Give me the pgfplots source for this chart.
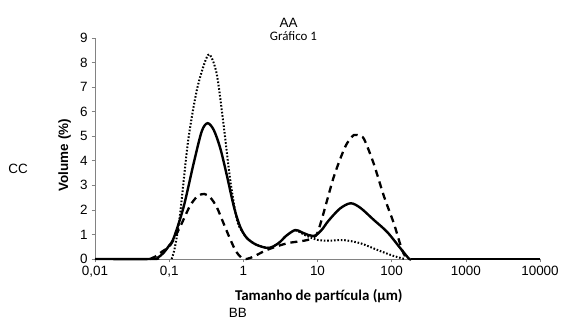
\documentclass[border=0pt]{standalone}
\usepackage{pgfplots}
\pgfplotsset{compat=1.18}
\usepackage{fontspec}
\setmainfont{Liberation Sans}
\newfontfamily\calibri{Carlito}
\definecolor{axgray}{RGB}{130,130,130}
\begin{document}
\begin{tikzpicture}
\useasboundingbox (0,0) rectangle (561bp,322bp);
\begin{axis}[
  at={(95bp,63bp)}, anchor=south west,
  scale only axis, width=445bp, height=221bp,
  xmode=log, log basis x=10,
  xmin=0.01, xmax=10000, ymin=0, ymax=9,
  axis x line*=bottom, axis y line*=left,
  axis line style={-, axgray, line width=0.6pt},
  xtick={0.01,0.1,1,10,100,1000,10000},
  xticklabels={0{,}01,0{,}1,1,10,100,1000,10000},
  ytick={0,1,...,9},
  minor xtick={}, 
  tick style={axgray, line width=0.6pt},
  tick align=outside, major tick length=3.5bp,
  /pgf/number format/assume math mode=true,
  tick label style={font=\fontsize{13.5}{15}\selectfont, text=black},
  xticklabel style={yshift=-0.5bp},
  yticklabel style={xshift=-0.5bp},
  clip=false,
  title={\calibri\fontsize{13}{15}\selectfont Gráfico 1},
  title style={at={(rel axis cs:0.446,0.983)}, anchor=center},
  xlabel={\calibri\bfseries\fontsize{15}{17}\selectfont Tamanho de partícula (µm)},
  xlabel style={at={(rel axis cs:0.503,-0.17)}, anchor=center},
  ylabel={\bfseries\fontsize{13.5}{15}\selectfont Volume (\%)},
  ylabel style={at={(rel axis cs:-0.068,0.47)}, anchor=center, rotate=0},
]
% solid
\addplot[black, line width=2.4bp, smooth, tension=0.5] coordinates {
(0.01,0) (0.06,0) (0.07,0.05) (0.084,0.25) (0.1,0.55) (0.115,0.85) (0.156,2.1)
(0.214,3.9) (0.275,5.2) (0.33,5.53) (0.40,5.25) (0.49,4.5) (0.60,3.4) (0.75,2.1)
(0.91,1.3) (1.12,0.85) (1.5,0.58) (2.2,0.45) (3.0,0.65) (3.8,0.95) (5.0,1.18)
(6.0,1.1) (7.5,0.98) (9.3,0.95) (11.5,1.2) (14,1.55) (20,2.05) (28,2.27) (38,2.08)
(57,1.6) (87,1.1) (130,0.45) (170,0.02) (180,0)
};
\addplot[black, line width=2.4bp] coordinates {(180,0) (10000,0)};
% dotted
\addplot[black, line width=2bp, dash pattern=on 1.6bp off 1.8bp, smooth, tension=0.5] coordinates {
(0.108,0) (0.12,0.5) (0.14,1.8) (0.18,4.8) (0.237,6.9) (0.31,8.1) (0.358,8.3)
(0.44,7.5) (0.54,5.5) (0.667,3.2) (0.82,1.6) (0.95,1.15) (1.12,0.85) (1.5,0.58)
(2.2,0.45) (3.0,0.65) (3.8,0.95) (5.0,1.17) (6.5,1.0) (9.9,0.78) (15,0.75)
(22.6,0.77) (38,0.64) (64,0.37) (107,0.12) (150,0)
};
% dashed
\addplot[black, line width=2.3bp, dash pattern=on 7bp off 5bp, smooth, tension=0.5] coordinates {
(0.055,0) (0.065,0.1) (0.08,0.3) (0.103,0.55) (0.14,1.3) (0.19,2.15) (0.24,2.55)
(0.297,2.65) (0.36,2.5) (0.44,2.1) (0.55,1.4) (0.667,0.8) (0.8,0.3) (0.95,0.05)
(1.1,0) (1.38,0.1) (1.8,0.28) (2.3,0.42) (3.9,0.64) (7.2,0.77) (9.5,0.95) (11,1.45)
(13.5,2.4) (16.6,3.35) (21,4.2) (25,4.71) (31,5.05) (38,5.0) (43,4.85) (57,3.9)
(79,2.54) (107,1.45) (138,0.37) (160,0.02) (170,0)
};
\node[font=\fontsize{13.5}{15}\selectfont] at (rel axis cs:0.435,1.069) {AA};
\node[font=\fontsize{13.5}{15}\selectfont] at (rel axis cs:0.321,-0.244) {BB};
\node[font=\fontsize{13.5}{15}\selectfont] at (rel axis cs:-0.173,0.407) {CC};
\end{axis}
\end{tikzpicture}
\end{document}
